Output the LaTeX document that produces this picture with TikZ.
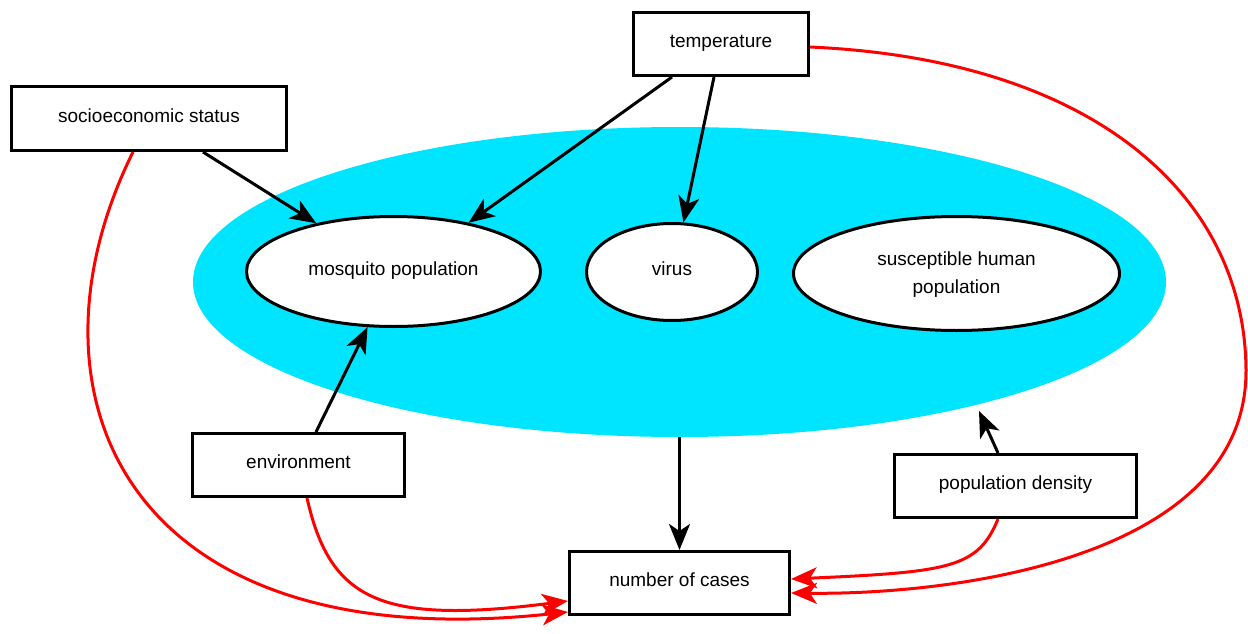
\documentclass[tikz,border=0pt]{standalone}
\usepackage{fontspec}
\setmainfont{Liberation Sans}
\usetikzlibrary{shapes.geometric,arrows.meta}
\definecolor{fieldcyan}{RGB}{0,229,255}
\definecolor{linkred}{RGB}{255,0,0}
\newcommand{\up}[1]{\raisebox{6pt}{#1}}
\begin{document}
\begin{tikzpicture}[x=1pt,y=-1pt,
  every node/.style={font=\fontsize{19}{28}\selectfont, align=center, inner sep=0pt},
  factor/.style={draw=black, fill=white, line width=3pt, rectangle},
  core/.style={draw=black, fill=white, line width=3pt, ellipse},
  link/.style={line width=3pt, -{Stealth[length=26pt,width=21pt,inset=7pt]}},
  redlink/.style={link, draw=linkred}
]
\path[use as bounding box] (0,0) rectangle (1248,634);

\node[fill=fieldcyan, ellipse, minimum width=973pt, minimum height=310pt] (field) at (679.5,282) {};

\node[core, minimum width=294pt, minimum height=110pt] (mosq) at (393.5,271.5) {\up{mosquito population}};
\node[core, minimum width=171pt, minimum height=97pt] (virus) at (672,272) {\up{virus}};
\node[core, minimum width=326pt, minimum height=114pt] (human) at (956.5,273.5) {\raisebox{5pt}{\begin{tabular}{@{}c@{}}susceptible human\\population\end{tabular}}};

\node[factor, minimum width=175pt, minimum height=63pt] (temp) at (721,44) {\up{temperature}};
\node[factor, minimum width=275pt, minimum height=64pt] (socio) at (149,118.5) {\up{socioeconomic status}};
\node[factor, minimum width=212pt, minimum height=63pt] (env) at (298.5,465) {\up{environment}};
\node[factor, minimum width=242pt, minimum height=63pt] (dens) at (1015.5,486) {\up{population density}};
\node[factor, minimum width=220pt, minimum height=63pt] (cases) at (679.5,583) {\up{number of cases}};

\coordinate (denstip) at (979,411);

% black links
\draw[link] ([xshift=54pt]socio.south) -- (mosq.148);
\draw[link] ([xshift=-49pt]temp.south) -- (mosq.33);
\draw[link] ([xshift=-7pt]temp.south) -- (virus.77);
\draw[link] ([xshift=17.5pt]env.north) -- (mosq.245);
\draw[link] ([xshift=-17.5pt]dens.north) -- (denstip);
\draw[link] (field.-90) -- (cases.north);

% red links
\draw[redlink] ([xshift=-16pt]socio.south) .. controls (15,390) and (120,660) .. ([yshift=-29pt]cases.west);
\draw[redlink] ([xshift=8.5pt]env.south) .. controls (330,600) and (380,625) .. ([yshift=-18pt]cases.west);
\draw[redlink] ([yshift=-3pt]temp.east) .. controls (1100,60) and (1245,200) .. (1246,370)
  .. controls (1247,560) and (950,595) .. ([yshift=-10pt]cases.east);
\draw[redlink] ([xshift=-17.5pt]dens.south) .. controls (978,568) and (950,572) .. ([yshift=4pt]cases.east);
\end{tikzpicture}
\end{document}
